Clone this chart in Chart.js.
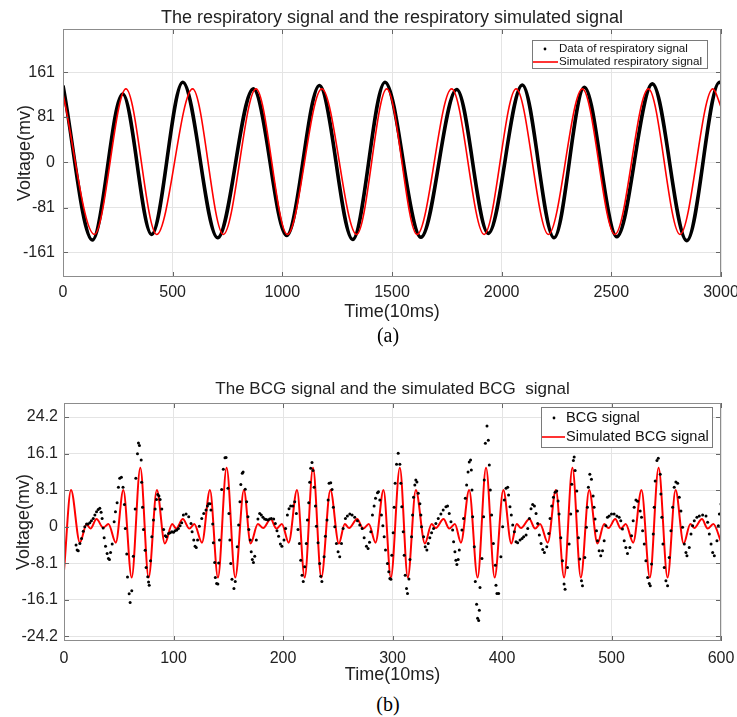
<!DOCTYPE html>
<html>
<head>
<meta charset="utf-8">
<title>Respiratory and BCG signals</title>
<script src="https://cdn.jsdelivr.net/npm/chart.js@4.4.0/dist/chart.umd.min.js"></script>
<style>
  body { margin: 0; background: #fff; }
  #page { position: relative; width: 737px; height: 717px; overflow: hidden; }
  canvas { position: absolute; left: 0; }
  #chartA { top: 0; }
  #chartB { top: 370px; }
  .cap { position: absolute; width: 60px; text-align: center; font-family: 'Liberation Serif', 'Times New Roman', serif; font-size: 20px; line-height: 24px; color: #000; }
</style>
</head>
<body>
<div id="page">
  <canvas id="chartA" width="737" height="325"></canvas>
  <div class="cap" style="left:358px; top:323px;">(a)</div>
  <canvas id="chartB" width="737" height="320"></canvas>
  <div class="cap" style="left:358px; top:692px;">(b)</div>
</div>
<script>
// (a) respiratory signal, time in 10ms units, peaks/troughs
const respData = [[0,137],[134,-139],[272,122],[404,-129],[546,143],[705,-135],[868,131],[1020,-131],[1169,137],[1321,-138],
  [1468,143],[1632,-134],[1795,130],[1939,-127],[2094,138],[2239,-135],[2377,134],[2525,-133],[2687,140],[2844,-140],[2993,143],[3000,142]];
const respSim = [[0,122],[143,-129],[287,131],[427,-129],[591,131],[731,-129],[880,131],[1023,-129],[1180,131],[1339,-129],
  [1476,131],[1614,-129],[1772,131],[1920,-129],[2066,131],[2213,-129],[2368,131],[2516,-129],[2669,131],[2813,-129],[2963,131],[3000,99]];
const respYTicks = [-161, -81, 0, 81, 161];

// (b) BCG samples (dots) and simulated BCG extrema
const bcgData = [[11,-4.0],[12,-5.1],[13,-5.3],[14.5,-3.7],[16,-2.6],[17.6,-1.0],[19,0],[20.6,0.6],[22,0.6],[23.6,0.9],[25,1.3],[26.7,1.8],[28.2,2.6],[29.7,3.3],[31.2,3.8],[32.7,4.1],[33.9,3.2],[34.8,1.8],[35.8,-0.3],[36.7,-2.4],[37.9,-4.3],[39.4,-5.9],[40.6,-7.0],[41.5,-7.2],[42.5,-5.7],[44,-3.8],[45.8,1.1],[47,3.3],[48.5,5.3],[49.7,8.7],[50.9,10.7],[52.4,10.9],[53.9,8.7],[55.2,4.9],[56,-0.4],[57.3,-6.0],[58,-11.1],[59.5,-14.8],[60.4,-16.7],[61.9,-14.1],[63.3,-6.5],[65,3.9],[65.6,10.7],[67.1,16.1],[68,18.5],[68.9,17.9],[70.5,14.7],[70.9,9.8],[71.7,4.3],[72.6,-0.6],[74.1,-5.2],[75,-9.0],[76.5,-11.0],[77.2,-12.2],[77.8,-12.9],[79,-7.5],[80.2,-2.2],[81.7,1.5],[83.2,3.9],[84.5,6.0],[85.6,7.1],[86.7,6.8],[87.8,6.0],[89.3,3.9],[91,-0.6],[92.5,-2.0],[93.5,-2.2],[95.5,-1.5],[97,-1.3],[98.6,-1.1],[100,-1.2],[101.5,-0.9],[103,-0.7],[104.5,-0.4],[106,0.2],[107.5,0.9],[109,2.6],[111.5,2.8],[113.9,2.2],[116,0.7],[117,-1.1],[118.5,-2.9],[119.7,-4.3],[120.8,-4.6],[122,-2.9],[123.6,0.1],[125.8,1.8],[127.6,2.9],[129.7,3.7],[131,4.6],[132,5.1],[133.3,5.1],[134.2,3.7],[135.8,0.6],[136.4,-3.5],[137.6,-7.9],[138.2,-11.2],[139.4,-12.5],[140.5,-12.6],[141.2,-8.0],[142,-2.9],[144,8.2],[145.5,12.7],[147,15.2],[148,15.3],[149.7,8.5],[150.6,2.9],[151.5,-2.9],[152.3,-8.1],[153.4,-11.6],[155.2,-13.6],[156.4,-12.1],[158.2,-4.4],[159.5,0.4],[160.7,5.5],[161.5,9.3],[162.8,11.8],[163.6,12.1],[165.5,8.3],[166.8,5.5],[168,2.2],[168.8,-0.6],[170.1,-2.9],[171,-5.5],[172,-7.2],[173,-7.9],[174.2,-6.5],[175.6,-2.9],[177.1,1.7],[178.7,2.9],[180.2,2.6],[181.7,2.1],[183.2,1.7],[184.7,1.6],[186.3,1.5],[187.8,1.7],[189.3,1.8],[191.5,1.7],[193,0.7],[194.5,-0.9],[196,-2.1],[197.6,-3.8],[199,-4.3],[200.9,-2.9],[202.4,-0.4],[204,2.6],[205.5,4.0],[207,4.6],[209,4.6],[210.7,5.5],[212.2,2.9],[213.7,-0.6],[215,-3.7],[216.2,-7.4],[217.4,-10.7],[218.5,-12.1],[219.8,-8.8],[221.3,-3.7],[222.3,1.5],[223.5,5.3],[224.4,9.8],[225.3,12.9],[226.5,14.2],[227.4,12.4],[228.4,8.7],[229.6,4.6],[230.5,0.1],[232,-3.5],[233.5,-8.1],[234.5,-10.9],[235.5,-12.1],[237.5,-6.6],[238.7,-2.1],[240.2,1.5],[241.2,5.9],[242.1,9.6],[243.6,9.7],[244.8,8.2],[246,4.3],[247.3,0],[248.8,-3.7],[250.3,-5.5],[251.8,-6.6],[253.4,-3.7],[254.9,-0.4],[257,1.8],[258.8,2.4],[261,2.8],[263.1,2.6],[265.5,2.1],[268,1.3],[270.1,0.4],[272.3,-0.4],[274.1,-2.4],[276.2,-4.3],[277.7,-4.8],[279,-3.4],[280.2,-1.1],[281.7,2.6],[283.2,4.6],[284.5,6.3],[286.3,7.5],[287.2,7.7],[288.4,5.9],[289.9,2.6],[291.2,0.2],[292.4,-2.2],[293.6,-5.1],[295.4,-8.1],[296.6,-9.9],[297.6,-11.4],[298.5,-11.6],[299.4,-6.3],[300.6,-1.3],[301.5,4.3],[302.4,9.6],[303.7,13.8],[305.2,16.2],[306.7,13.8],[307.6,9.6],[308.5,4.4],[309.8,-1.1],[310.7,-6.3],[311.6,-10.7],[312.8,-13.6],[313.7,-14.7],[315,-11.5],[315.9,-7.2],[317.4,-2.2],[318.3,2.6],[319.2,6.5],[320.4,9.2],[321.3,10.3],[322.3,9.9],[323.5,7.4],[325,5.1],[325.9,2.6],[326.5,0],[328.4,-2.2],[329.9,-4.4],[331.4,-5.1],[332.6,-3.7],[334.1,-2.4],[335.7,-1.3],[337.5,-0.4],[339.6,0.7],[341.8,1.8],[344.2,2.8],[346.3,3.7],[348.8,4.4],[350.3,4.6],[351.8,2.9],[353.4,1.1],[354.9,-0.7],[355.8,-3.3],[357,-5.5],[357.9,-7.4],[358.8,-8.3],[360,-7.2],[361,-5.1],[363.4,-0.7],[364.9,1.8],[366.5,6.3],[367.7,9.2],[369,12.1],[370.1,14.3],[371.3,14.7],[372,12.5],[372.6,8.1],[373.2,2.2],[374.7,-4.4],[375.6,-12.1],[376.8,-17.1],[377.7,-20.2],[378.7,-20.7],[379.3,-18.4],[379.9,-13.4],[381.7,-7.0],[383.2,2.2],[383.8,10.3],[384.8,18.4],[386.3,22.2],[387.5,19.1],[388.4,13.6],[389.3,8.1],[390.5,2.6],[392.1,-3.7],[393.9,-8.5],[394.5,-12.9],[395.4,-14.7],[396.9,-14.7],[399,-6.6],[400.6,0],[402.1,5.9],[403.7,8.5],[405.2,8.7],[406,7.0],[407.3,4.4],[408.5,2.6],[409.8,0.4],[411.3,-1.1],[412.8,-3.3],[414.3,-3.5],[416.5,-2.9],[418.3,-2.6],[419.8,-2.2],[422,-1.8],[423.5,-0.4],[425,1.8],[426.5,4.0],[428,4.9],[429.6,4.6],[431.1,2.9],[432.6,0.7],[434.1,-1.8],[435.7,-3.7],[437.2,-5.0],[438.7,-5.7],[440.9,-4.4],[442.7,-1.5],[443.9,1.8],[445.4,4.6],[447,6.5],[448.5,7.6],[450,7.9],[451.2,5.7],[452.1,2.8],[453.7,-2.4],[455.2,-7.5],[456.7,-12.6],[457.6,-13.8],[459.8,-9.0],[461.3,-3.8],[462.8,2.8],[463.7,9.4],[465.2,14.6],[465.9,15.4],[466.8,12.4],[468.3,7.9],[468.9,3.5],[469.8,-2.4],[471,-7.1],[472.6,-11.9],[473.5,-13.0],[475.6,-6.8],[477.1,-0.1],[478,4.3],[478.9,8.7],[480.2,11.6],[481.7,10.5],[483.2,6.8],[484.1,4.3],[485,1.7],[486.3,-0.9],[487.2,-3.1],[488.7,-5.3],[490.2,-6.4],[491.8,-5.3],[493.3,-3.1],[494.8,0.2],[496.3,2.1],[497.9,2.4],[500,2.8],[502.4,2.8],[504.9,2.4],[507,2.1],[508.5,1.3],[510,-0.5],[511.6,-3.1],[513.1,-4.6],[514.6,-5.9],[516.8,-4.6],[518.3,-2.0],[519.8,1.3],[520.7,4.3],[522.3,5.9],[523.8,5.6],[526.2,3.5],[527.4,2.1],[528.4,-0.9],[529.9,-3.8],[531.4,-7.5],[533,-11.2],[534.5,-12.5],[535.4,-13.0],[536.6,-8.2],[538.1,-1.6],[539,4.3],[539.9,10.1],[541.5,14.6],[542.7,15.1],[544.5,11.6],[545.1,7.2],[546,2.1],[547,-3.8],[548.2,-9.0],[549.7,-11.9],[551.2,-13.0],[552.7,-6.8],[554.3,-0.9],[555.8,4.3],[557.3,8.7],[558.8,9.9],[560.4,9.6],[561.9,6.5],[563.4,3.5],[564.9,-0.1],[566.5,-3.8],[568,-5.7],[568.9,-6.4],[571,-4.6],[572.6,-1.6],[574.1,0.2],[575.6,1.3],[578,2.1],[580.2,2.4],[583.2,2.6],[586.3,2.4],[587.8,1.0],[589.3,-1.6],[590.9,-3.8],[592.4,-5.7],[593.9,-6.4],[596.3,-3.1],[597.6,0.2],[598.5,2.8],[600,5.0]];
const bcgSim = [[0,-9.7],[6.4,8.1],[14.5,-3.5],[20.6,0.5],[24.2,-0.4],[29.7,1.7],[35.8,-0.2],[40.6,0.6],[47.3,-3.5],[54.2,8.1],[61.8,-11.2],[69.7,13.0],[77.3,-11.2],[84.8,8.1],[92.1,-3.7],[98.8,0.6],[102.4,-0.4],[108.5,1.7],[114.5,-0.4],[119,0.6],[126,-3.5],[133.3,8.1],[140.6,-11.2],[148.5,13.0],[156.4,-11.2],[164.3,8.1],[170.4,-3.7],[177,0.6],[182,-0.3],[188.7,1.7],[194,-0.4],[199,0.6],[205.2,-3.5],[212.8,8.1],[219.8,-11.2],[227.4,13.0],[235,-11.2],[243.3,8.1],[251,-3.7],[256.4,0.6],[260.4,-0.3],[267.7,1.7],[273.2,-0.4],[278.4,0.6],[284.5,-3.5],[291.8,8.1],[298.5,-11.2],[306.7,13.0],[314,-11.2],[321.3,8.1],[329.6,-3.7],[335.7,0.6],[339.6,-0.3],[346.6,1.7],[351.8,-0.4],[357,0.6],[362.5,-3.5],[370,8.1],[377.7,-11.2],[385.4,13.0],[393.3,-11.2],[401.2,8.1],[408.5,-3.7],[413.4,0.6],[417.4,-0.3],[425,1.7],[430.2,-0.4],[434.8,0.6],[441.8,-3.5],[449.2,8.1],[456.7,-11.2],[464.3,13.0],[472,-11.2],[479.6,8.1],[487.2,-3.7],[493.3,0.6],[497.3,-0.3],[503.4,1.7],[508.5,-0.4],[513,0.6],[519.8,-3.5],[527.4,8.1],[535,-11.2],[543,13.0],[551.2,-11.2],[558.5,8.1],[565.9,-3.7],[572,0.6],[575.6,-0.3],[582.6,1.7],[587.8,-0.4],[593,0.6],[600,-3.3]];
const bcgYTicks = [-24.2, -16.1, -8.1, 0, 8.1, 16.1, 24.2];

const FONT = '"Liberation Sans", Arial, sans-serif';
const RED = '#ff0000';
const GRID = '#e4e4e4';
const TXT = '#222';

const toXY = (pairs) => pairs.map(p => ({ x: p[0], y: p[1] }));

// box round the axes plus the little inward ticks matlab draws
const frame = {
  id: 'frame',
  afterDatasetsDraw(chart) {
    const { ctx, chartArea: a, scales: { x, y } } = chart;
    ctx.save();
    ctx.strokeStyle = '#666';
    ctx.lineWidth = 1;
    ctx.beginPath();
    x.ticks.forEach(t => {
      const px = Math.round(x.getPixelForValue(t.value)) + 0.5;
      ctx.moveTo(px, a.bottom); ctx.lineTo(px, a.bottom - 5);
      ctx.moveTo(px, a.top); ctx.lineTo(px, a.top + 5);
    });
    y.ticks.forEach(t => {
      const py = Math.round(y.getPixelForValue(t.value)) + 0.5;
      ctx.moveTo(a.left, py); ctx.lineTo(a.left + 5, py);
      ctx.moveTo(a.right, py); ctx.lineTo(a.right - 5, py);
    });
    ctx.stroke();
    ctx.strokeStyle = '#8c8c8c';
    ctx.strokeRect(Math.round(a.left) + 0.5, Math.round(a.top) + 0.5, Math.round(a.right - a.left) - 1, Math.round(a.bottom - a.top) - 1);
    ctx.restore();
  }
};

// legend inside the plot, top right
const boxLegend = {
  id: 'boxLegend',
  afterDraw(chart, args, o) {
    const { ctx, chartArea: a } = chart;
    const left = Math.round(a.right - o.right - o.width);
    const top = Math.round(a.top + o.top);
    ctx.save();
    ctx.fillStyle = '#fff';
    ctx.fillRect(left, top, o.width, o.height);
    ctx.strokeStyle = '#7a7a7a';
    ctx.lineWidth = 1;
    ctx.strokeRect(left + 0.5, top + 0.5, o.width, o.height);
    ctx.font = o.fontSize + 'px ' + FONT;
    ctx.textBaseline = 'middle';
    chart.data.datasets.forEach((ds, i) => {
      const yy = top + o.rows[i];
      if (ds.legendDot) {
        ctx.fillStyle = '#000';
        ctx.beginPath();
        ctx.arc(left + o.dotX, yy, 1.4, 0, Math.PI * 2);
        ctx.fill();
      } else {
        ctx.strokeStyle = ds.borderColor;
        ctx.lineWidth = 1.6;
        ctx.beginPath();
        ctx.moveTo(left + 1, yy);
        ctx.lineTo(left + o.textX - 1, yy);
        ctx.stroke();
      }
      ctx.fillStyle = '#111';
      ctx.fillText(ds.label, left + o.textX, yy);
    });
    ctx.restore();
  }
};

let axisX = (min, max, step, fitHeight, titlePad, tickPad) => ({
  type: 'linear', min: min, max: max,
  ticks: { stepSize: step, color: TXT, padding: tickPad, maxRotation: 0, font: { family: FONT, size: 16 }, callback: v => String(v) },
  grid: { color: GRID, drawTicks: false },
  border: { display: false },
  title: { display: true, text: 'Time(10ms)', color: TXT, font: { family: FONT, size: 18 }, padding: { top: 0, bottom: titlePad } },
  afterFit: (s) => { s.height = fitHeight; s.paddingLeft = 0; s.paddingRight = 0; }
});

let axisY = (min, max, tickList, fitWidth, titlePad, tickPad) => ({
  min: min, max: max,
  afterBuildTicks: (s) => { s.ticks = tickList.map(v => ({ value: v })); },
  ticks: { color: TXT, padding: tickPad, font: { family: FONT, size: 16 }, callback: v => String(v) },
  grid: { color: GRID, drawTicks: false },
  border: { display: false },
  title: { display: true, text: 'Voltage(mv)', color: TXT, font: { family: FONT, size: 18 }, padding: { top: titlePad, bottom: 0 } },
  afterFit: (s) => { s.width = fitWidth; }
});

new Chart(document.getElementById('chartA'), {
  type: 'line',
  data: {
    datasets: [
      { label: 'Data of respiratory signal', data: toXY(respData), borderColor: '#000', borderWidth: 3.6,
        pointRadius: 0, cubicInterpolationMode: 'monotone', order: 2, legendDot: true },
      { label: 'Simulated respiratory signal', data: toXY(respSim), borderColor: RED, borderWidth: 1.6,
        pointRadius: 0, cubicInterpolationMode: 'monotone', order: 1 }
    ]
  },
  options: {
    responsive: false,
    animation: false,
    layout: { padding: { left: 0, right: 16, top: 0, bottom: 0 } },
    plugins: {
      legend: { display: false },
      tooltip: { enabled: false },
      title: { display: true, fullSize: false, text: 'The respiratory signal and the respiratory simulated signal',
        color: TXT, font: { family: FONT, size: 18, weight: 'normal' }, padding: { top: 7.2, bottom: 0.2 } },
      boxLegend: { right: 14, top: 11, width: 175, height: 28, fontSize: 11.6, rows: [9, 22], textX: 27, dotX: 13 }
    },
    scales: {
      x: axisX(0, 3000, 500, 48, 2.2, 6),
      y: axisY(-205, 238, respYTicks, 63, 14.2, 8)
    }
  },
  plugins: [frame, boxLegend]
});

new Chart(document.getElementById('chartB'), {
  type: 'line',
  data: {
    datasets: [
      { label: 'BCG signal', data: toXY(bcgData), showLine: false, pointRadius: 1.5, pointBorderWidth: 0,
        pointBackgroundColor: '#000', borderColor: '#000', order: 1, legendDot: true },
      { label: 'Simulated BCG signal', data: toXY(bcgSim), borderColor: RED, borderWidth: 2,
        pointRadius: 0, cubicInterpolationMode: 'monotone', order: 2 }
    ]
  },
  options: {
    responsive: false,
    animation: false,
    layout: { padding: { left: 0, right: 16, top: 0, bottom: 0 } },
    plugins: {
      legend: { display: false },
      tooltip: { enabled: false },
      title: { display: true, fullSize: false, text: 'The BCG signal and the simulated BCG  signal',
        color: TXT, font: { family: FONT, size: 17, weight: 'normal' }, padding: { top: 8.8, bottom: 3.8 } },
      boxLegend: { right: 9, top: 4, width: 171, height: 40, fontSize: 14.6, rows: [11, 30], textX: 25, dotX: 13 }
    },
    scales: {
      x: axisX(0, 600, 100, 49, 4.2, 8),
      y: axisY(-25.2, 27.3, bcgYTicks, 64, 13.2, 6)
    }
  },
  plugins: [frame, boxLegend]
});
</script>
</body>
</html>
